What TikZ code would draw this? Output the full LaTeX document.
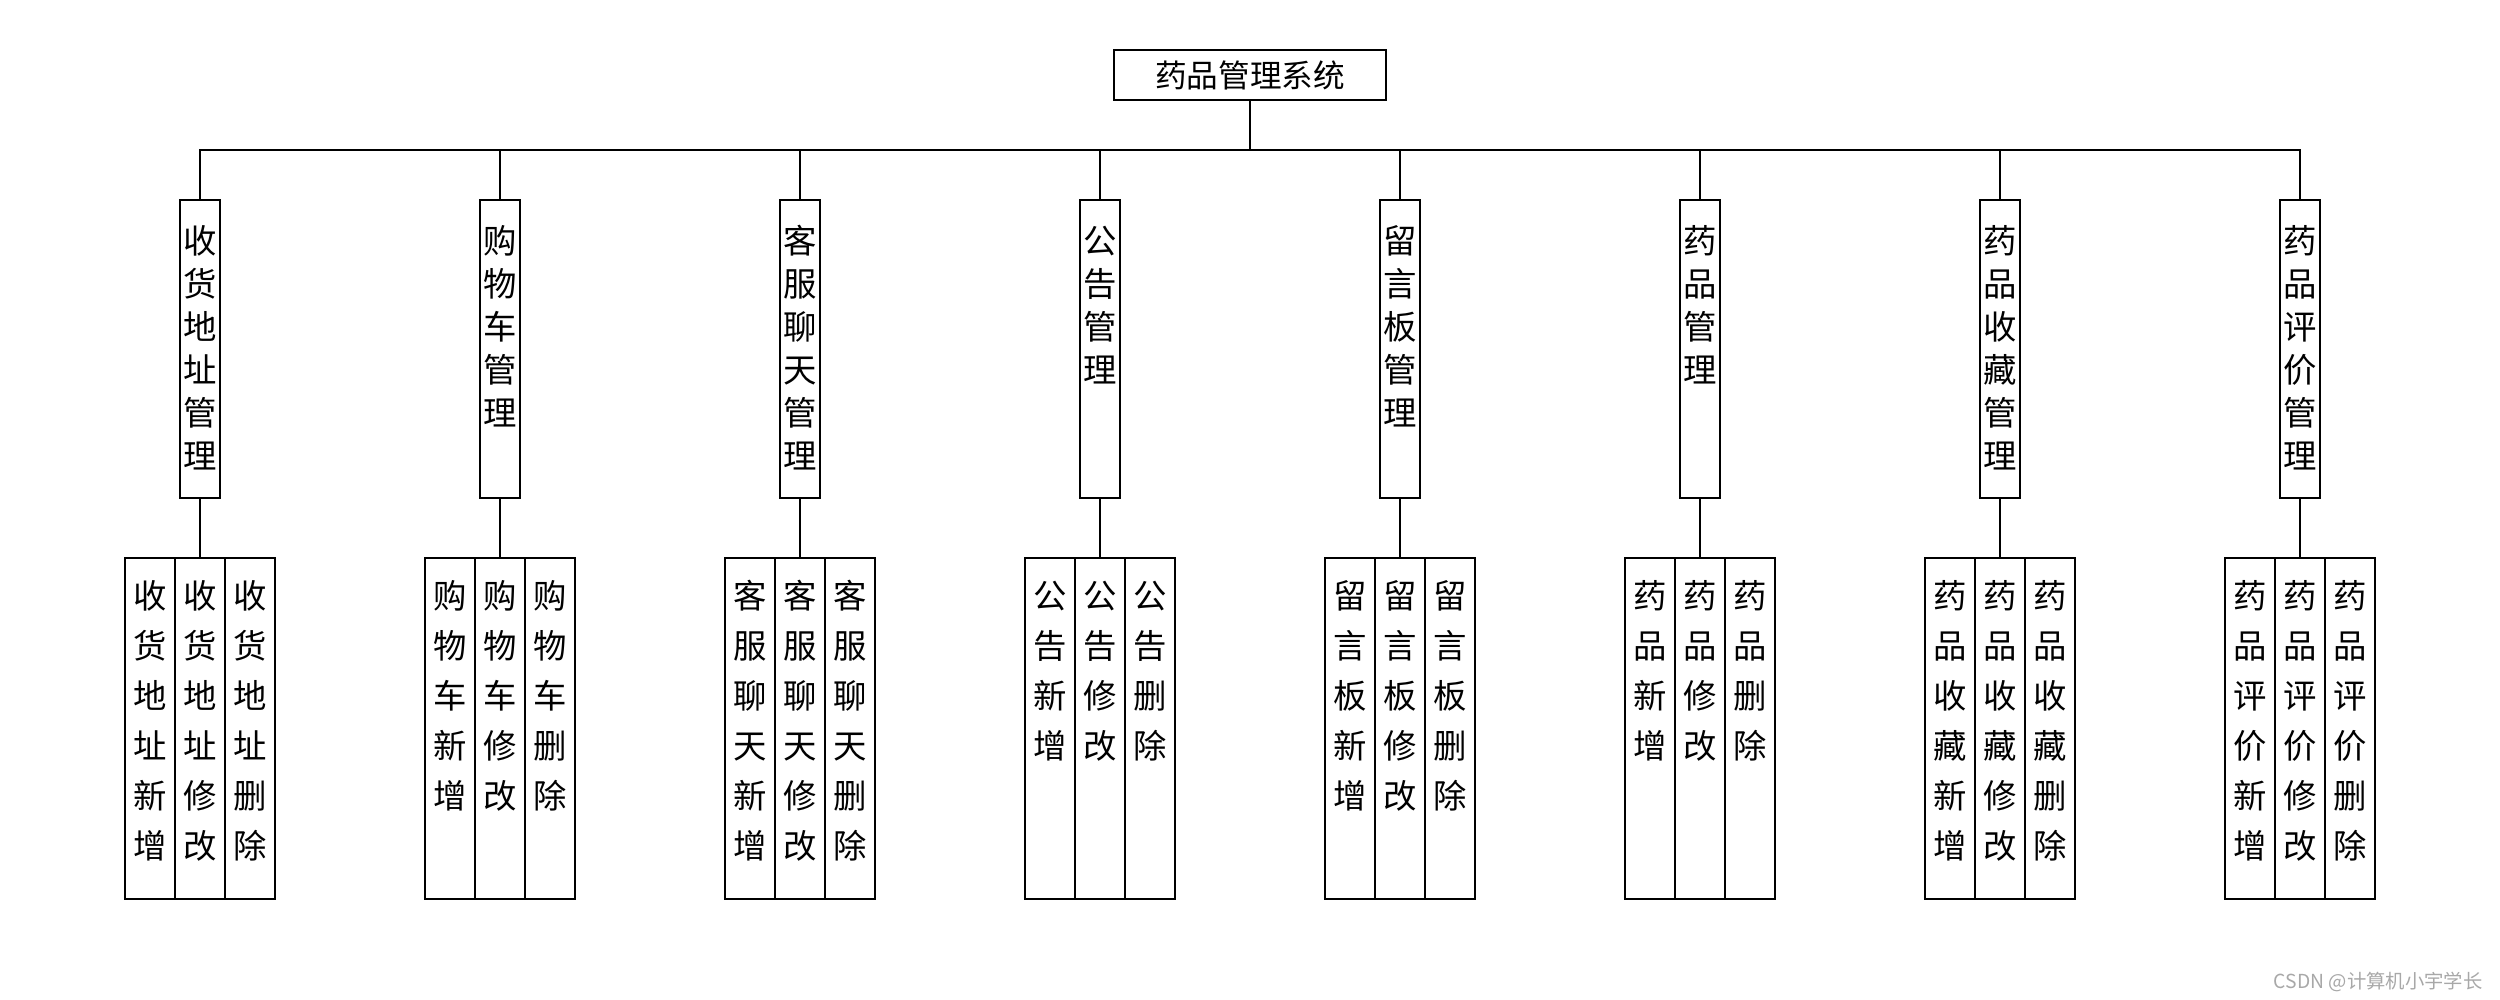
\documentclass[tikz,border=0pt]{standalone}
\usepackage{fontspec}
\setmainfont{Noto Sans CJK SC}
\usepackage{xcolor}
\usepackage{tikz}
\usetikzlibrary{positioning}
\definecolor{inkblack}{HTML}{000000}
\definecolor{markgray}{HTML}{A8A8A8}

\newcommand{\modtext}[1]{\vbox to 2.98cm{\hsize=0.4cm\parindent=0pt\parskip=0pt\centering\baselineskip=0.43cm\vskip0.11cm\prevdepth=0pt #1\par\vfil}}
\newcommand{\functext}[1]{\vbox to 3.41cm{\hsize=0.5cm\parindent=0pt\parskip=0pt\centering\baselineskip=0.5cm\vskip0.01cm\prevdepth=0pt #1\par\vfil}}

\begin{document}
\begin{tikzpicture}[
  every node/.style={font=\fontsize{9pt}{11pt}\selectfont, text=inkblack},
  sysbox/.style={
    draw=inkblack,
    line width=0.6pt,
    minimum width=2.72cm,
    minimum height=0.5cm,
    inner sep=0pt,
    outer sep=0pt,
  },
  modbox/.style={
    draw=inkblack,
    line width=0.6pt,
    font=\fontsize{9.5pt}{11pt}\selectfont,
    inner sep=0pt,
    outer sep=0pt,
  },
  funcbox/.style={
    draw=inkblack,
    line width=0.6pt,
    font=\fontsize{9.5pt}{11pt}\selectfont,
    inner sep=0pt,
    outer sep=0pt,
  },
  link/.style={
    draw=inkblack,
    line width=0.6pt,
  },
  credit/.style={
    font=\fontsize{5.5pt}{7pt}\selectfont,
    text=markgray,
    inner sep=0pt,
  },
]
  \useasboundingbox (0,0) rectangle (25,-10);

  \node[sysbox] (system) at (12.5,-0.75) {药品管理系统};

  \node[modbox, anchor=north] (address) at (2,-2) {\modtext{收\\货\\地\\址\\管\\理}};
  \node[modbox, right=2.6cm of address] (cart) {\modtext{购\\物\\车\\管\\理}};
  \node[modbox, right=2.6cm of cart] (chat) {\modtext{客\\服\\聊\\天\\管\\理}};
  \node[modbox, right=2.6cm of chat] (notice) {\modtext{公\\告\\管\\理}};
  \node[modbox, right=2.6cm of notice] (board) {\modtext{留\\言\\板\\管\\理}};
  \node[modbox, right=2.6cm of board] (drug) {\modtext{药\\品\\管\\理}};
  \node[modbox, right=2.6cm of drug] (favorite) {\modtext{药\\品\\收\\藏\\管\\理}};
  \node[modbox, right=2.6cm of favorite] (review) {\modtext{药\\品\\评\\价\\管\\理}};

  \node[funcbox, below=0.6cm of address] (address-edit) {\functext{收\\货\\地\\址\\修\\改}};
  \node[funcbox, left=0pt of address-edit] (address-add) {\functext{收\\货\\地\\址\\新\\增}};
  \node[funcbox, right=0pt of address-edit] (address-del) {\functext{收\\货\\地\\址\\删\\除}};

  \node[funcbox, below=0.6cm of cart] (cart-edit) {\functext{购\\物\\车\\修\\改}};
  \node[funcbox, left=0pt of cart-edit] (cart-add) {\functext{购\\物\\车\\新\\增}};
  \node[funcbox, right=0pt of cart-edit] (cart-del) {\functext{购\\物\\车\\删\\除}};

  \node[funcbox, below=0.6cm of chat] (chat-edit) {\functext{客\\服\\聊\\天\\修\\改}};
  \node[funcbox, left=0pt of chat-edit] (chat-add) {\functext{客\\服\\聊\\天\\新\\增}};
  \node[funcbox, right=0pt of chat-edit] (chat-del) {\functext{客\\服\\聊\\天\\删\\除}};

  \node[funcbox, below=0.6cm of notice] (notice-edit) {\functext{公\\告\\修\\改}};
  \node[funcbox, left=0pt of notice-edit] (notice-add) {\functext{公\\告\\新\\增}};
  \node[funcbox, right=0pt of notice-edit] (notice-del) {\functext{公\\告\\删\\除}};

  \node[funcbox, below=0.6cm of board] (board-edit) {\functext{留\\言\\板\\修\\改}};
  \node[funcbox, left=0pt of board-edit] (board-add) {\functext{留\\言\\板\\新\\增}};
  \node[funcbox, right=0pt of board-edit] (board-del) {\functext{留\\言\\板\\删\\除}};

  \node[funcbox, below=0.6cm of drug] (drug-edit) {\functext{药\\品\\修\\改}};
  \node[funcbox, left=0pt of drug-edit] (drug-add) {\functext{药\\品\\新\\增}};
  \node[funcbox, right=0pt of drug-edit] (drug-del) {\functext{药\\品\\删\\除}};

  \node[funcbox, below=0.6cm of favorite] (favorite-edit) {\functext{药\\品\\收\\藏\\修\\改}};
  \node[funcbox, left=0pt of favorite-edit] (favorite-add) {\functext{药\\品\\收\\藏\\新\\增}};
  \node[funcbox, right=0pt of favorite-edit] (favorite-del) {\functext{药\\品\\收\\藏\\删\\除}};

  \node[funcbox, below=0.6cm of review] (review-edit) {\functext{药\\品\\评\\价\\修\\改}};
  \node[funcbox, left=0pt of review-edit] (review-add) {\functext{药\\品\\评\\价\\新\\增}};
  \node[funcbox, right=0pt of review-edit] (review-del) {\functext{药\\品\\评\\价\\删\\除}};

  \draw[link] (system.south) -- ++(0,-0.5) -| (address.north);
  \draw[link] (system.south) -- ++(0,-0.5) -| (cart.north);
  \draw[link] (system.south) -- ++(0,-0.5) -| (chat.north);
  \draw[link] (system.south) -- ++(0,-0.5) -| (notice.north);
  \draw[link] (system.south) -- ++(0,-0.5) -| (board.north);
  \draw[link] (system.south) -- ++(0,-0.5) -| (drug.north);
  \draw[link] (system.south) -- ++(0,-0.5) -| (favorite.north);
  \draw[link] (system.south) -- ++(0,-0.5) -| (review.north);

  \draw[link] (address.south) -- (address-edit.north);
  \draw[link] (cart.south) -- (cart-edit.north);
  \draw[link] (chat.south) -- (chat-edit.north);
  \draw[link] (notice.south) -- (notice-edit.north);
  \draw[link] (board.south) -- (board-edit.north);
  \draw[link] (drug.south) -- (drug-edit.north);
  \draw[link] (favorite.south) -- (favorite-edit.north);
  \draw[link] (review.south) -- (review-edit.north);

  \node[credit, anchor=east] (watermark) at (24.83,-9.82) {CSDN @计算机小宇学长};
\end{tikzpicture}
\end{document}
